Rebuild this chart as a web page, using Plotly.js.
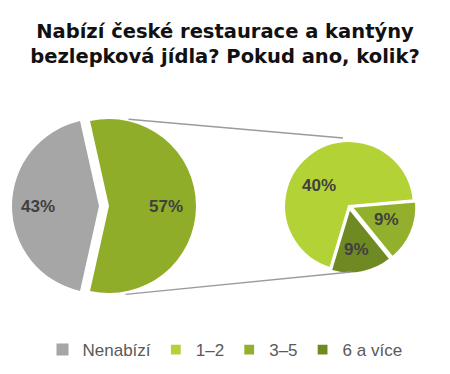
<!DOCTYPE html>
<html>
<head>
<meta charset="utf-8">
<script src="https://cdn.plot.ly/plotly-3.0.1.min.js"></script>
<style>html,body{margin:0;padding:0;background:#fff;}#chart{width:450px;height:374px;}</style>
</head>
<body>
<div id="chart"></div>
<script>
// ---- data ----
const mainLabels = ["Nenabízí", "Nabízí"];
const mainValues = [43, 57];
const subLabels = ["1–2", "3–5", "6 a více"];
const subValues = [40, 9, 9];
const titleText = "Nabízí české restaurace a kantýny<br>bezlepková jídla? Pokud ano, kolik?";

// ---- styling / geometry ----
const W = 450, H = 374;
const mainColors = ["#a6a6a6", "#8fad29"];
const subColors = ["#b3d236", "#92b02c", "#6f8a23"];
const C1 = {x: 99, y: 206, r: 87, pull: 0.115, rot: 192.6, pulls: [0, 0.115]};
const C2 = {x: 349, y: 206, r: 65, pull: 0.04, rot: 196.7, pulls: [0, 0.04, 0.04]};
// label placement (radial fraction, angular tweak in degrees)
const mainLabelPos = [[0.70, 0], [0.65, 0]];
const subLabelPos = [[0.56, -16], [0.58, -3], [0.64, 2]];

function dom(c) {
  const h = c.r * (1 + c.pull);
  return {x: [(c.x - h) / W, (c.x + h) / W], y: [(H - c.y - h) / H, (H - c.y + h) / H]};
}
const deg = Math.PI / 180;
const txtFont = {family: "Liberation Sans, Arial, sans-serif", size: 17, color: "#404040", weight: "bold"};

// slice labels from the data values, placed along each slice's mid-angle
function sliceLabels(values, c, pos) {
  const tot = values.reduce((a, b) => a + b, 0);
  let start = c.rot;
  const out = [];
  values.forEach((v, i) => {
    const span = 360 * v / tot;
    const mid = start + span / 2;
    const pm = c.pulls[i] * c.r;
    const cx = c.x + pm * Math.sin(mid * deg), cy = c.y - pm * Math.cos(mid * deg);
    const a = (mid + pos[i][1]) * deg, rr = pos[i][0] * c.r;
    const px = cx + rr * Math.sin(a), py = cy - rr * Math.cos(a);
    out.push({xref: "paper", yref: "paper", x: px / W, y: (H - py) / H, xanchor: "center", yanchor: "middle",
              text: v + "%", showarrow: false, font: txtFont});
    start += span;
  });
  return out;
}

const dummy = {
  type: "pie", labels: [mainLabels[0]], values: [1], sort: false,
  marker: {colors: [mainColors[0]]}, textinfo: "none", hoverinfo: "skip",
  domain: {x: [40 / W, 44 / W], y: [(H - 210) / H, (H - 206) / H]}, showlegend: true
};
const mainPie = {
  type: "pie", labels: mainLabels, values: mainValues, sort: false,
  direction: "clockwise", rotation: C1.rot,
  pull: C1.pulls, domain: dom(C1),
  marker: {colors: mainColors, line: {width: 0}},
  textinfo: "none", showlegend: false, hoverinfo: "label+value"
};
const subPie = {
  type: "pie", labels: subLabels, values: subValues, sort: false,
  direction: "clockwise", rotation: C2.rot,
  pull: C2.pulls, domain: dom(C2),
  marker: {colors: subColors, line: {width: 2.2, color: "#ffffff"}},
  textinfo: "none", showlegend: true, hoverinfo: "label+value"
};

// connector lines derived from pie geometry
const gCx = C1.x + C1.pull * C1.r;
const lineStyle = {color: "#9a9aa2", width: 1.3};
const shapes = [
  {type: "line", xref: "paper", yref: "paper",
   x0: (gCx + C1.r * Math.sin(13 * deg)) / W, y0: (H - (C1.y - C1.r * Math.cos(13 * deg) - 2)) / H,
   x1: (C2.x - 6) / W, y1: (H - (C2.y - C2.r - 3)) / H, line: lineStyle},
  {type: "line", xref: "paper", yref: "paper",
   x0: (gCx + C1.r * Math.sin(11 * deg)) / W, y0: (H - (C1.y + C1.r * Math.cos(11 * deg) + 3)) / H,
   x1: (C2.x + 2) / W, y1: (H - (C2.y + C2.r + 1)) / H, line: lineStyle}
];

const layout = {
  width: W, height: H,
  margin: {l: 0, r: 0, t: 0, b: 0},
  paper_bgcolor: "#ffffff",
  title: {text: titleText, x: 0.5, xanchor: "center", y: 1 - 38 / H, yanchor: "top", yref: "container",
          font: {family: "DejaVu Sans, sans-serif", size: 19.5, color: "#111111", weight: "bold"}},
  showlegend: true,
  legend: {orientation: "h", x: 0.5, xanchor: "center", y: (H - 350) / H, yanchor: "middle",
           font: {family: "Liberation Sans, Arial, sans-serif", size: 17, color: "#595959"},
           itemwidth: 30, traceorder: "normal"},
  shapes: shapes,
  annotations: sliceLabels(mainValues, C1, mainLabelPos).concat(sliceLabels(subValues, C2, subLabelPos))
};

Plotly.newPlot("chart", [dummy, mainPie, subPie], layout, {displayModeBar: false, staticPlot: true});
</script>
</body>
</html>
